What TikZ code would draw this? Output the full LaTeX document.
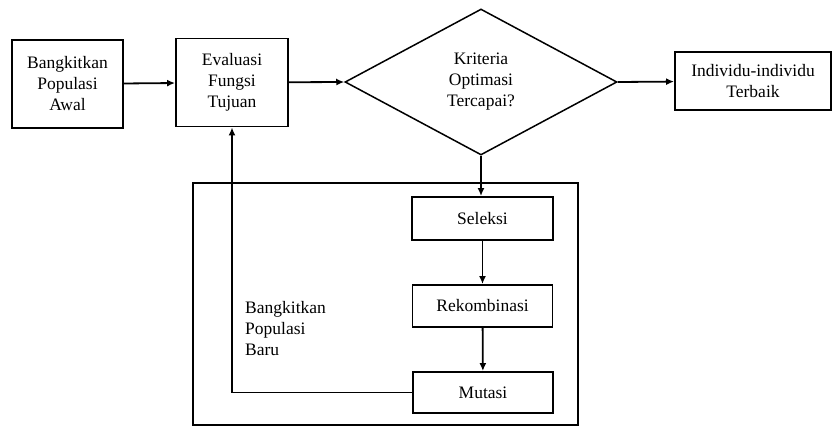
\documentclass[tikz,border=0pt]{standalone}
\usepackage{fontspec}
\setmainfont{Liberation Serif}
\usetikzlibrary{shapes.geometric,arrows.meta}

\begin{document}
\begin{tikzpicture}[x=1pt,y=-1pt,
  every node/.style={font=\fontsize{17.5}{21}\selectfont, align=center, inner sep=0pt},
  stepbox/.style={draw, rectangle, line width=1.9pt},
  choice/.style={draw, diamond, line width=1.5pt},
  arr/.style={line width=1.8pt, -{Latex[length=8pt,width=7pt]}},
  link/.style={line width=1.8pt}]
\useasboundingbox (0,0) rectangle (832,428);

% main chain
\node[stepbox, minimum width=111pt, minimum height=88pt] (init) at (67.5,84) {Bangkitkan\\Populasi\\Awal};
\node[stepbox, minimum width=112pt, minimum height=88pt] (eval) at (232,82.5) {Evaluasi\\Fungsi\\Tujuan};
\node[choice, minimum width=272pt, minimum height=146pt] (crit) at (481,82) {Kriteria\\Optimasi\\Tercapai?};
\node[stepbox, minimum width=156pt, minimum height=58pt] (best) at (753,81) {Individu-individu\\Terbaik};

% new generation block
\node[draw, rectangle, line width=1.9pt, minimum width=385pt, minimum height=242pt] (gen) at (385.5,304) {};
\node[stepbox, minimum width=141pt, minimum height=43pt] (sel) at (482.5,218.5) {Seleksi};
\node[stepbox, minimum width=140pt, minimum height=42pt] (rek) at (482.5,306) {Rekombinasi};
\node[stepbox, minimum width=140pt, minimum height=41pt] (mut) at (483,392.5) {Mutasi};
\node[anchor=north west, align=left] (newpop) at (245,301) {Bangkitkan\\Populasi\\Baru};

% connectors
\draw[arr] (init) -- (eval);
\draw[arr] (eval) -- (crit.west);
\draw[arr] (crit.east) -- (best);
\draw[arr] (crit.south) -- (sel.north -| crit.south);
\draw[arr] (sel) -- (rek);
\draw[arr] (rek) -- (mut);
\draw[arr] (mut.west) -| (eval.south);
\end{tikzpicture}
\end{document}
